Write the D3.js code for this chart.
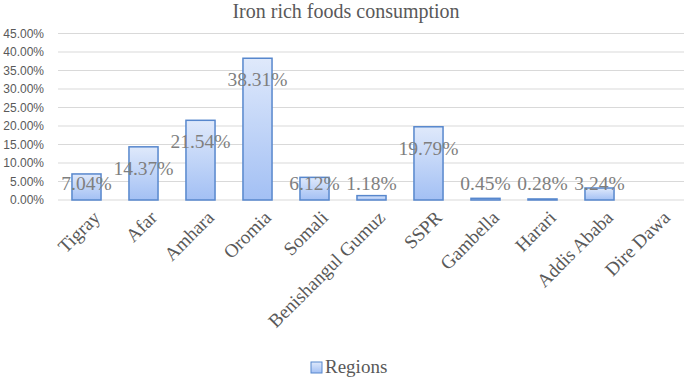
<!DOCTYPE html>
<html>
<head>
    <meta charset="utf-8" />
    <script src="https://d3js.org/d3.v7.min.js"></script>
    <style>
        body { margin: 0; background: #fff; }
        svg { display: block; }
    </style>
</head>
<body>

<svg id="svg"></svg>

<script>

const title = "Iron rich foods consumption";
const seriesName = "Regions";
const regions = ["Tigray", "Afar", "Amhara", "Oromia", "Somali", "Benishangul Gumuz",
    "SSPR", "Gambella", "Harari", "Addis Ababa", "Dire Dawa"];
const values = [7.04, 14.37, 21.54, 38.31, 6.12, 1.18, 19.79, 0.45, 0.28, 3.24, null];
const yTicks = [0, 5, 10, 15, 20, 25, 30, 35, 40, 45];

let realW = 685;
let realH = 379;

let svg = d3.select("#svg")
    .attr("width", realW)
    .attr("height", realH);

// gradient for bars
let defs = svg.append("defs");
let grad = defs.append("linearGradient")
    .attr("id", "barGrad")
    .attr("x1", 0).attr("y1", 0)
    .attr("x2", 0).attr("y2", 1);
grad.append("stop").attr("offset", "0%").attr("stop-color", "#dfe9fb");
grad.append("stop").attr("offset", "100%").attr("stop-color", "#a3c0f4");

let x = d3.scaleBand()
    .domain(regions)
    .range([58, 685])
    .paddingInner(0.49)
    .paddingOuter(0.245);

let y = d3.scaleLinear()
    .domain([0, 45])
    .range([200, 33.5]);

// title
svg.append("text")
    .attr("x", 346)
    .attr("y", 18)
    .attr("text-anchor", "middle")
    .attr("font-family", "Liberation Serif, Times New Roman, serif")
    .attr("font-size", 20)
    .attr("fill", "#595959")
    .text(title);

// gridlines
svg.append("g")
    .selectAll("line")
    .data(yTicks)
    .enter()
    .append("line")
    .attr("x1", 58)
    .attr("x2", 684)
    .attr("y1", d => y(d))
    .attr("y2", d => y(d))
    .attr("stroke", "#d9d9d9")
    .attr("stroke-width", 1);

// y axis labels
let yAxis = svg.append("g")
    .attr("transform", "translate(44,0)")
    .call(d3.axisLeft(y).tickValues(yTicks).tickSize(0).tickPadding(0)
        .tickFormat(d => d.toFixed(2) + "%"));
yAxis.select(".domain").remove();
yAxis.selectAll("text")
    .attr("font-family", "Liberation Sans, Arial, sans-serif")
    .attr("font-size", 12)
    .attr("fill", "#595959");

// bars
let data = regions.map((r, i) => ({ region: r, value: values[i] }))
    .filter(d => d.value !== null);

svg.append("g")
    .selectAll("rect")
    .data(data)
    .enter()
    .append("rect")
    .attr("x", d => x(d.region))
    .attr("y", d => y(d.value))
    .attr("width", x.bandwidth())
    .attr("height", d => y(0) - y(d.value))
    .attr("fill", "url(#barGrad)")
    .attr("stroke", "#5787cd")
    .attr("stroke-width", 1.5);

// data labels
svg.append("g")
    .selectAll("text")
    .data(data)
    .enter()
    .append("text")
    .attr("x", d => x(d.region) + x.bandwidth() / 2)
    .attr("y", d => Math.min(y(d.value) + 21, 183))
    .attr("dy", "0.35em")
    .attr("text-anchor", "middle")
    .attr("font-family", "Liberation Serif, Times New Roman, serif")
    .attr("font-size", 19.5)
    .attr("fill", "#7f7f7f")
    .text(d => d.value.toFixed(2) + "%");

// x axis labels
let xAxis = svg.append("g")
    .attr("transform", "translate(0,200)")
    .call(d3.axisBottom(x).tickSize(0).tickPadding(0));
xAxis.select(".domain").remove();
xAxis.selectAll("text")
    .attr("font-family", "Liberation Serif, Times New Roman, serif")
    .attr("font-size", 19)
    .attr("fill", "#595959")
    .attr("text-anchor", "end")
    .attr("dy", "0.35em")
    .attr("transform", "translate(10,14) rotate(-45)");

// legend
let legend = svg.append("g")
    .attr("transform", "translate(311,362)");
legend.append("rect")
    .attr("width", 11)
    .attr("height", 11)
    .attr("fill", "url(#barGrad)")
    .attr("stroke", "#5787cd")
    .attr("stroke-width", 1);
legend.append("text")
    .attr("x", 14)
    .attr("y", 11)
    .attr("font-family", "Liberation Serif, Times New Roman, serif")
    .attr("font-size", 19)
    .attr("fill", "#595959")
    .text(seriesName);

</script>

</body>
</html>
